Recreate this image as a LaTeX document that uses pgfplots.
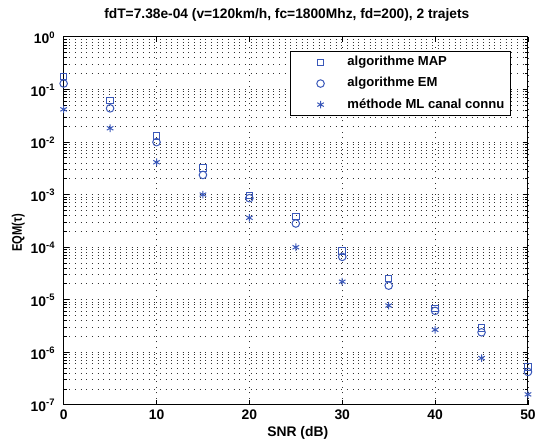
\documentclass[border=0pt]{standalone}
\usepackage{graphicx}
\usepackage{pgfplots}
\pgfplotsset{compat=1.18}
\usepackage{fontspec}
\setmainfont{Liberation Sans}
\definecolor{mblue}{RGB}{58,88,185}
\newcommand{\tpow}[1]{10\raisebox{5.7bp}{\fontsize{9.5}{10}\selectfont\bfseries #1}}
\pgfplotstableread{
snr map em ml
0  0.175   0.129   0.0416
5  0.0615  0.0435  0.0182
10 0.0128  0.0099  0.0041
15 0.00318 0.00235 0.000995
20 0.00095 0.00085 0.00036
25 0.00038 0.00028 9.9e-5
30 8.3e-5  6.5e-5  2.19e-5
35 2.53e-5 1.84e-5 7.7e-6
40 6.8e-6  6.1e-6  2.66e-6
45 2.86e-6 2.38e-6 7.7e-7
50 5.2e-7  4.2e-7  1.57e-7
}\datatab
\begin{document}
\begin{tikzpicture}
\begin{axis}[name=ax, scale only axis, width=467bp, height=370bp,
  ymode=log, xmin=0, xmax=50, ymin=1e-7, ymax=1,
  xtick={0,10,20,30,40,50}, xticklabels={0,10,20,30,40,50},
  ytick={1e-7,1e-6,1e-5,1e-4,1e-3,1e-2,1e-1,1},
  yticklabels={\tpow{-7},\tpow{-6},\tpow{-5},\tpow{-4},\tpow{-3},\tpow{-2},\tpow{-1},\tpow{0}},
  tick label style={font=\fontsize{14}{16}\selectfont\bfseries},
  xticklabel style={anchor=base, yshift=-15bp},
  yticklabel style={anchor=base east, inner xsep=0pt, xshift=-9bp, yshift=-7bp},
  xmajorgrids, ymajorgrids, yminorgrids,
  major grid style={black!80, line width=0.6bp, dash pattern=on 0.9bp off 4.8bp},
  minor grid style={black!80, line width=0.6bp, dash pattern=on 0.9bp off 4.8bp},
  tick align=inside, major tick length=5bp, minor tick length=3bp,
  tick style={black, line width=0.6bp},
  axis line style={black, line width=1bp},
  clip=false,
  title={fdT=7.38e-04 (v=120km/h, fc=1800Mhz, fd=200), 2 trajets},
  title style={font=\fontsize{13.9}{15}\selectfont\bfseries, at={(axis description cs:0.5,1)}, anchor=base, yshift=12bp, xshift=-9bp},
  xlabel={SNR (dB)}, ylabel={\scalebox{0.8}[1]{EQM(τ)}},
  xlabel style={font=\fontsize{14}{16}\selectfont\bfseries, at={(axis description cs:0.5,0)}, anchor=base, yshift=-31.5bp, xshift=2bp},
  ylabel style={font=\fontsize{14}{16}\selectfont\bfseries, at={(axis description cs:-0.0975,0.4676)}, anchor=center},
  legend style={at={(axis description cs:0.9636,0.9622)}, anchor=north east, draw=black, line width=1.5bp,
    font=\fontsize{13.2}{15}\selectfont\bfseries, inner xsep=4bp, inner ysep=0.5bp,
    nodes={inner xsep=2bp, inner ysep=4.4bp, text height=9.6bp, text depth=2.8bp}},
  legend cell align=left,
  legend image code/.code={\path (0bp,0bp) (50bp,0bp); \draw[#1, line width=1bp] plot coordinates {(25.7bp,0bp)};},
  legend image post style={color=mblue},
]
\addplot[only marks, mark=square*, mark size=3.3bp, color=mblue, mark options={line width=1bp, draw=mblue, fill opacity=0}] table[x=snr,y=map]{\datatab};
\addlegendentry{algorithme MAP}
\addplot[only marks, mark=o, mark size=3.8bp, color=mblue, mark options={line width=1bp}] table[x=snr,y=em]{\datatab};
\addlegendentry{algorithme EM}
\addplot[only marks, mark=asterisk, mark size=3.8bp, color=mblue, mark options={line width=1bp}] table[x=snr,y=ml]{\datatab};
\addlegendentry{méthode ML canal connu}
\end{axis}
\path ([xshift=-64bp,yshift=-37bp]ax.south west) rectangle ([xshift=8bp,yshift=37bp]ax.north east);
\end{tikzpicture}
\end{document}
